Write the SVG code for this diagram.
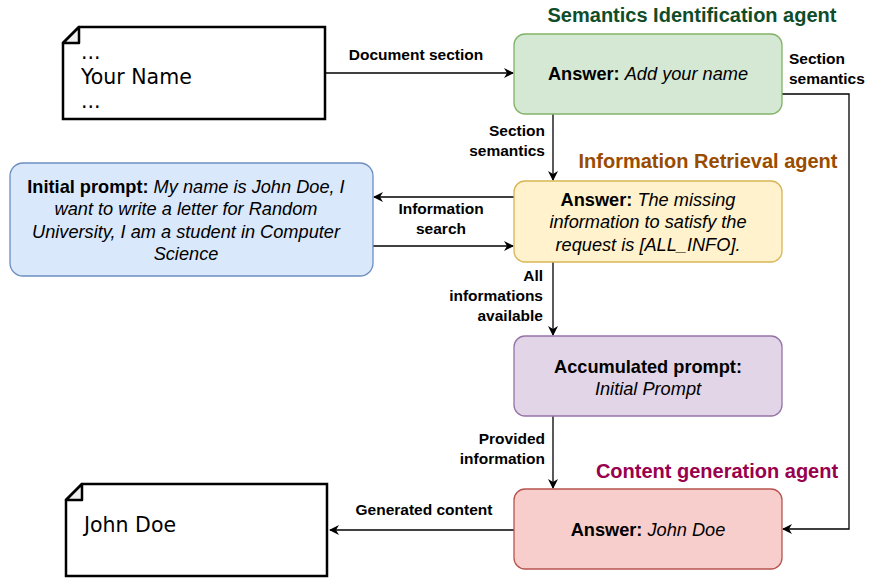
<svg xmlns="http://www.w3.org/2000/svg" width="869" height="579" viewBox="0 0 869 579">
<style>
.doc{fill:#fff;stroke:#000;stroke-width:2.5}
.fold{fill:#eee;stroke:#000;stroke-width:2.5;stroke-linejoin:round}
.dt{font-family:"DejaVu Sans",sans-serif;font-size:20.5px;fill:#000}
.box{stroke-width:1.3}
.bt{font-family:"Liberation Sans",Arial,sans-serif;font-size:18.2px;fill:#000;text-anchor:middle}
.b{font-weight:bold}
.i{font-style:italic}
.lbl{font-family:"Liberation Sans",Arial,sans-serif;font-size:15.5px;font-weight:bold;fill:#000}
.ttl{font-family:"Liberation Sans",Arial,sans-serif;font-size:20px;font-weight:bold;text-anchor:middle}
.edge{fill:none;stroke:#000;stroke-width:1.3}
</style>
<defs>
<marker id="arr" viewBox="0 0 10 10" refX="9" refY="5" markerWidth="10" markerHeight="10" markerUnits="userSpaceOnUse" orient="auto">
<path d="M0,0 L10,5 L0,10 L3,5 Z" fill="#000"/>
</marker>
</defs>
<rect width="869" height="579" fill="#fff"/>

<g id="connectors">
<path class="edge" d="M325,73 L513,73" marker-end="url(#arr)"/>
<text class="lbl" x="416" y="60" text-anchor="middle">Document section</text>
<path class="edge" d="M782,94 L849,94 L849,529 L783,529" marker-end="url(#arr)"/>
<text class="lbl" x="789" y="64">Section</text>
<text class="lbl" x="789" y="84">semantics</text>
<path class="edge" d="M553,114 L553,180" marker-end="url(#arr)"/>
<text class="lbl" x="545" y="136" text-anchor="end">Section</text>
<text class="lbl" x="545" y="156" text-anchor="end">semantics</text>
<path class="edge" d="M514,197 L374,197" marker-end="url(#arr)"/>
<path class="edge" d="M373,246 L513,246" marker-end="url(#arr)"/>
<text class="lbl" x="441" y="214" text-anchor="middle">Information</text>
<text class="lbl" x="441" y="234" text-anchor="middle">search</text>
<path class="edge" d="M553,262 L553,335" marker-end="url(#arr)"/>
<text class="lbl" x="543" y="281" text-anchor="end">All</text>
<text class="lbl" x="543" y="301" text-anchor="end">informations</text>
<text class="lbl" x="543" y="321" text-anchor="end">available</text>
<path class="edge" d="M553,416 L553,488" marker-end="url(#arr)"/>
<text class="lbl" x="545" y="444" text-anchor="end">Provided</text>
<text class="lbl" x="545" y="464" text-anchor="end">information</text>
<path class="edge" d="M514,530 L330,530" marker-end="url(#arr)"/>
<text class="lbl" x="424" y="515" text-anchor="middle">Generated content</text>
</g>

<g id="doc-input">
<path class="doc" d="M79,27 L325,27 L325,119 L63,119 L63,43 Z"/>
<path class="fold" d="M63,43 L79,27 L79,43 Z"/>
<text class="dt" x="81" y="59">...</text>
<text class="dt" x="81" y="84">Your Name</text>
<text class="dt" x="81" y="108">...</text>
</g>

<g id="semantics-agent">
<text class="ttl" x="692" y="22" fill="#0f4d2a">Semantics Identification agent</text>
<rect class="box" x="514" y="34" width="268" height="80" rx="11" fill="#d5e8d4" stroke="#82b366"/>
<text class="bt" x="648" y="80"><tspan class="b">Answer: </tspan><tspan class="i">Add your name</tspan></text>
</g>

<g id="retrieval-agent">
<text class="ttl" x="708" y="168" fill="#994c00">Information Retrieval agent</text>
<rect class="box" x="514" y="181" width="268" height="81" rx="11" fill="#fff2cc" stroke="#d6b656"/>
<text class="bt" x="648" y="206"><tspan class="b">Answer: </tspan><tspan class="i">The missing</tspan></text>
<text class="bt i" x="648" y="228">information to satisfy the</text>
<text class="bt i" x="648" y="251">request is [ALL_INFO].</text>
</g>

<g id="initial-prompt">
<rect class="box" x="10" y="163" width="363" height="113" rx="13" fill="#dae8fc" stroke="#6c8ebf"/>
<text class="bt" x="186" y="193"><tspan class="b">Initial prompt: </tspan><tspan class="i">My name is John Doe, I</tspan></text>
<text class="bt i" x="186" y="215">want to write a letter for Random</text>
<text class="bt i" x="186" y="238">University, I am a student in Computer</text>
<text class="bt i" x="186" y="260">Science</text>
</g>

<g id="accumulated-prompt">
<rect class="box" x="514" y="336" width="268" height="80" rx="11" fill="#e1d5e7" stroke="#9673a6"/>
<text class="bt b" x="648" y="373">Accumulated prompt:</text>
<text class="bt i" x="648" y="395">Initial Prompt</text>
</g>

<g id="content-agent">
<text class="ttl" x="717" y="478" fill="#99004d">Content generation agent</text>
<rect class="box" x="514" y="489" width="268" height="80" rx="11" fill="#f8cecc" stroke="#b85450"/>
<text class="bt" x="648" y="536"><tspan class="b">Answer: </tspan><tspan class="i">John Doe</tspan></text>
</g>

<g id="doc-output">
<path class="doc" d="M82,484 L327,484 L327,576 L66,576 L66,500 Z"/>
<path class="fold" d="M66,500 L82,484 L82,500 Z"/>
<text class="dt" x="84" y="532">John Doe</text>
</g>
</svg>
